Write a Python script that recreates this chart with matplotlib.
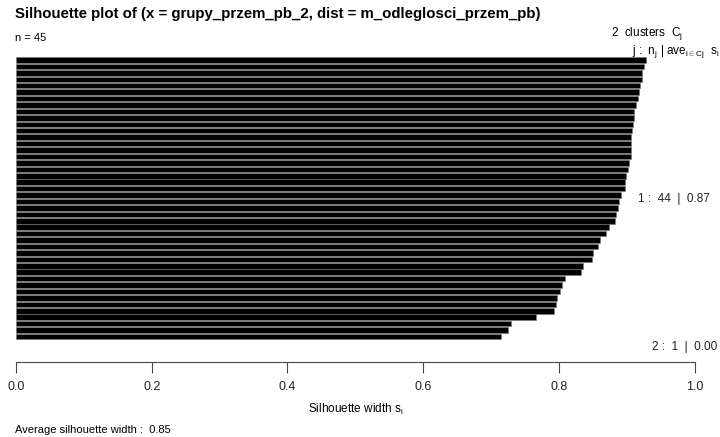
import numpy as np
import matplotlib
matplotlib.use("Agg")
import matplotlib.pyplot as plt

plt.rcParams['font.family'] = ['Liberation Sans', 'DejaVu Sans']
plt.rcParams['mathtext.fontset'] = 'custom'
plt.rcParams['mathtext.rm'] = 'Liberation Sans'
plt.rcParams['mathtext.it'] = 'Liberation Sans'

# silhouette widths, cluster 1 (sorted, top to bottom) and cluster 2
sil_cluster1 = [0.928, 0.925, 0.923, 0.922, 0.920, 0.918, 0.917, 0.914, 0.911, 0.910,
                0.909, 0.907, 0.906, 0.906, 0.906, 0.906, 0.903, 0.902, 0.899, 0.898,
                0.898, 0.891, 0.888, 0.887, 0.884, 0.882, 0.874, 0.870, 0.861, 0.858,
                0.850, 0.849, 0.835, 0.832, 0.809, 0.805, 0.802, 0.797, 0.796, 0.792,
                0.766, 0.729, 0.725, 0.714]
sil_cluster2 = [0.00]
cluster_avg = [0.87, 0.00]
avg_width = 0.85
xticks = [0.0, 0.2, 0.4, 0.6, 0.8, 1.0]

W, H = 720, 437
fig = plt.figure(figsize=(W / 100, H / 100), dpi=100)

# axes placed in pixel terms: x 0 -> px 16, x 1 -> px 694.7 ; axis line at px 362
ax = fig.add_axes([16 / W, 1 - 362 / H, 678.7 / W, (362 - 50) / H])

pitch = 6.43
y1 = np.arange(len(sil_cluster1))
y2 = len(sil_cluster1) + 0.5 + np.arange(len(sil_cluster2))
ax.barh(y1, sil_cluster1, height=0.86, color='black', edgecolor='#777777', linewidth=0.4)
ax.barh(y2, sil_cluster2, height=0.86, color='black', linewidth=0)

ax.set_xlim(0, 1)
ax.set_ylim((362 - 60) / pitch, (50 - 60) / pitch)

for s in ['top', 'left', 'right']:
    ax.spines[s].set_visible(False)
ax.spines['bottom'].set_color('#444444')
ax.spines['bottom'].set_linewidth(0.8)
ax.set_yticks([])
ax.set_xticks(xticks)
ax.set_xticklabels(['%.1f' % t for t in xticks], fontsize=9, color='#222222')
ax.tick_params(axis='x', length=8, width=0.8, color='#444444', pad=6)
ax.set_xlabel(r'Silhouette width s$_\mathrm{i}$', fontsize=8.5, labelpad=6)

# cluster summary texts
fig.text(710 / W, 1 - 199 / H, '1 :  44  |  0.87', ha='right', va='center',
         fontsize=8.5, color='#222222')
fig.text(717 / W, 1 - 347 / H, '2 :  1  |  0.00', ha='right', va='center',
         fontsize=8.5, color='#222222')
fig.text(683 / W, 1 - 34 / H, r'2  clusters  C$_\mathrm{j}$', ha='right', va='center',
         fontsize=8.5)
fig.text(719 / W, 1 - 52 / H, r'j :  n$_\mathrm{j}$ | ave$_{\mathrm{i\in Cj}}$  s$_\mathrm{i}$',
         ha='right', va='center', fontsize=8.5)

fig.text(15 / W, 1 - 14 / H, 'Silhouette plot of (x = grupy_przem_pb_2, dist = m_odleglosci_przem_pb)',
         ha='left', va='center', fontsize=10.8, fontweight='bold')
fig.text(15 / W, 1 - 38 / H, 'n = 45', ha='left', va='center', fontsize=8)
fig.text(15 / W, 1 - 430 / H, 'Average silhouette width :  %.2f' % avg_width,
         ha='left', va='center', fontsize=8)

fig.savefig('out.png', dpi=100)
